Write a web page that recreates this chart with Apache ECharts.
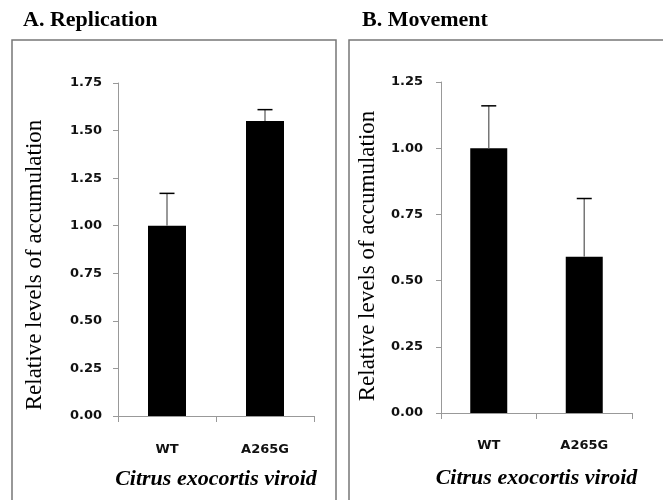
<!DOCTYPE html>
<html>
<head>
<meta charset="utf-8">
<script src="https://cdn.jsdelivr.net/npm/echarts@6/dist/echarts.min.js"></script>
<style>html,body{margin:0;padding:0;background:#fff;}#c{width:663px;height:500px;}</style>
</head>
<body>
<div id="c"></div>
<script>
var categories = ['WT', 'A265G'];
var replicationMeans = [1.00, 1.55];
var replicationUpper = [1.17, 1.61];
var movementMeans = [1.00, 0.59];
var movementUpper = [1.16, 0.81];
var replicationMax = 1.75;
var movementMax = 1.25;
var tickStep = 0.25;
var panelTitles = ['A. Replication', 'B. Movement'];
var yAxisTitle = 'Relative levels of accumulation';
var xAxisTitle = 'Citrus exocortis viroid';

var chart = echarts.init(document.getElementById('c'), null, {renderer: 'canvas'});

function errItem(params, api) {
  var x = api.value(0), top = api.value(1), base = api.value(2);
  var p0 = api.coord([x, base]);
  var p1 = api.coord([x, top]);
  var half = 7.5;
  return {
    type: 'group',
    children: [
      {type: 'line', shape: {x1: p0[0], y1: p0[1], x2: p1[0], y2: p1[1]}, style: {stroke: '#777', lineWidth: 1.5}},
      {type: 'line', shape: {x1: p1[0] - half, y1: p1[1], x2: p1[0] + half, y2: p1[1]}, style: {stroke: '#000', lineWidth: 1.5}}
    ]
  };
}

function yAxisCfg(gi, max) {
  return {
    type: 'value', gridIndex: gi, min: 0, max: max, interval: tickStep,
    axisLine: {show: true, lineStyle: {color: '#999', width: 1}},
    axisTick: {show: true, length: 5, lineStyle: {color: '#999'}},
    splitLine: {show: false},
    axisLabel: {
      margin: gi === 0 ? 16 : 18,
      formatter: function (v) { return v.toFixed(2); },
      fontFamily: 'DejaVu Sans', fontWeight: 'bold', fontSize: 13, color: '#111'
    }
  };
}
function xAxisCfg(gi) {
  return {
    type: 'category', gridIndex: gi, data: categories,
    axisLine: {show: true, lineStyle: {color: '#999', width: 1}},
    axisTick: {show: true, length: 6, lineStyle: {color: '#999'}},
    axisLabel: {margin: gi === 0 ? 27 : 26, fontFamily: 'DejaVu Sans', fontWeight: 'bold', fontSize: 13, color: '#111'},
    name: xAxisTitle, nameLocation: 'middle', nameGap: gi === 0 ? 52 : 54,
    nameTextStyle: {fontFamily: 'Liberation Serif', fontStyle: 'italic', fontWeight: 'bold', fontSize: 22, color: '#000'}
  };
}

chart.setOption({
  animation: false,
  backgroundColor: '#fff',
  grid: [
    {left: 118, right: 349, top: 83, bottom: 84},
    {left: 441, right: 31, top: 82, bottom: 87}
  ],
  xAxis: [xAxisCfg(0), xAxisCfg(1)],
  yAxis: [yAxisCfg(0, replicationMax), yAxisCfg(1, movementMax)],
  series: [
    {type: 'bar', xAxisIndex: 0, yAxisIndex: 0, data: replicationMeans, barWidth: 38, itemStyle: {color: '#000'}},
    {type: 'bar', xAxisIndex: 1, yAxisIndex: 1, data: movementMeans, barWidth: 37, itemStyle: {color: '#000'}},
    {type: 'custom', xAxisIndex: 0, yAxisIndex: 0, renderItem: errItem, z: 5,
     data: categories.map(function (c, i) { return [i, replicationUpper[i], replicationMeans[i]]; })},
    {type: 'custom', xAxisIndex: 1, yAxisIndex: 1, renderItem: errItem, z: 5,
     data: categories.map(function (c, i) { return [i, movementUpper[i], movementMeans[i]]; })}
  ],
  graphic: [
    {type: 'rect', shape: {x: 12, y: 40, width: 324, height: 480}, style: {fill: null, stroke: '#777', lineWidth: 1.5}},
    {type: 'rect', shape: {x: 349, y: 40, width: 340, height: 480}, style: {fill: null, stroke: '#777', lineWidth: 1.5}},
    {type: 'text', x: 23, y: 20, style: {text: panelTitles[0], font: 'bold 22px "Liberation Serif"', fill: '#000', textVerticalAlign: 'middle'}},
    {type: 'text', x: 362, y: 20, style: {text: panelTitles[1], font: 'bold 22px "Liberation Serif"', fill: '#000', textVerticalAlign: 'middle'}},
    {type: 'text', x: 35, y: 265, rotation: Math.PI / 2, style: {text: yAxisTitle, font: '23px "Liberation Serif"', fill: '#000', textAlign: 'center', textVerticalAlign: 'middle'}},
    {type: 'text', x: 368, y: 256, rotation: Math.PI / 2, style: {text: yAxisTitle, font: '23px "Liberation Serif"', fill: '#000', textAlign: 'center', textVerticalAlign: 'middle'}}
  ]
});
</script>
</body>
</html>
